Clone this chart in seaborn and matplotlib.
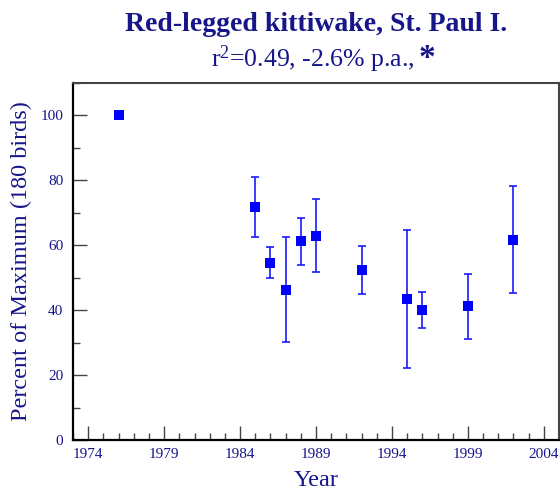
import matplotlib
matplotlib.use("Agg")
import matplotlib.pyplot as plt
import seaborn as sns
import pandas as pd
from matplotlib.ticker import MultipleLocator

# ---- data ----
years = [1976, 1985, 1986, 1987, 1988, 1989, 1992, 1995, 1996, 1999, 2002]
percent = [100.0, 71.8, 54.6, 46.3, 61.2, 62.8, 52.4, 43.4, 40.1, 41.3, 61.7]
upper = [100.0, 81.1, 59.4, 62.4, 68.5, 74.2, 59.7, 64.6, 45.7, 51.3, 78.3]
lower = [100.0, 62.4, 49.9, 30.2, 54.0, 51.7, 44.9, 22.3, 34.6, 31.0, 45.4]
xticks = [1974, 1979, 1984, 1989, 1994, 1999, 2004]
yticks = [0, 20, 40, 60, 80, 100]

title = "Red-legged kittiwake, St. Paul I."
subtitle = r"r$^{2}$=0.49, -2.6% p.a.,"
xlabel = "Year"
ylabel = "Percent of Maximum (180 birds)"

df = pd.DataFrame({"year": years, "pct": percent, "up": upper, "lo": lower})

sns.set_theme(style="white")
plt.rcParams["font.family"] = ["Liberation Serif", "DejaVu Serif"]
plt.rcParams["mathtext.fontset"] = "custom"
plt.rcParams["mathtext.rm"] = "Liberation Serif"
plt.rcParams["mathtext.it"] = "Liberation Serif"

navy = "#16168a"
blue = "#0000ff"

fig = plt.figure(figsize=(5.6, 4.97), dpi=100)
ax = fig.add_axes([73 / 560, 1 - 440 / 497, (559 - 73) / 560, (440 - 83) / 497])

ax.errorbar(df["year"], df["pct"],
            yerr=[df["pct"] - df["lo"], df["up"] - df["pct"]],
            fmt="none", ecolor="#1a1aff", elinewidth=1.2, capsize=3.2,
            capthick=1.2, zorder=2)
sns.scatterplot(data=df, x="year", y="pct", marker="s", s=46, color=blue,
                edgecolor=blue, linewidth=0, ax=ax, zorder=3)

ax.set_xlim(1973, 2005)
ax.set_ylim(0, 110)
ax.set_xticks(xticks)
ax.set_xticklabels([str(t) for t in xticks])
ax.set_yticks(yticks)
ax.set_yticklabels([str(t) for t in yticks])
ax.xaxis.set_minor_locator(MultipleLocator(1))
ax.yaxis.set_minor_locator(MultipleLocator(10))

ax.tick_params(axis="both", which="major", direction="in", length=10,
               width=1.0, color="#444444", labelsize=11, labelcolor=navy,
               bottom=True, left=True, top=False, right=False)
ax.tick_params(axis="both", which="minor", direction="in", length=5,
               width=1.0, color="#444444",
               bottom=True, left=True, top=False, right=False)
ax.tick_params(axis="x", which="major", pad=6)
ax.tick_params(axis="y", which="major", pad=7)

for side in ["left", "bottom"]:
    ax.spines[side].set_color("black")
    ax.spines[side].set_linewidth(1.6)
for side in ["top", "right"]:
    ax.spines[side].set_color("#444444")
    ax.spines[side].set_linewidth(1.5)

ax.set_xlabel(xlabel, fontsize=17.5, color=navy, labelpad=6)
ax.set_ylabel(ylabel, fontsize=17.5, color=navy, labelpad=6)

fig.text(316 / 560, 1 - 31 / 497, title, ha="center", va="baseline",
         fontsize=20, fontweight="bold", color=navy)
sub = fig.text(313 / 560, 1 - 67 / 497, subtitle, ha="center", va="baseline",
               fontsize=18.5, color=navy)
fig.canvas.draw()
bb = sub.get_window_extent()
fig.text((bb.x1 + 4) / 560, 1 - 67 / 497, "*", ha="left", va="baseline",
         fontsize=24, fontweight="bold", color=navy)

fig.savefig("out.png", dpi=100)
